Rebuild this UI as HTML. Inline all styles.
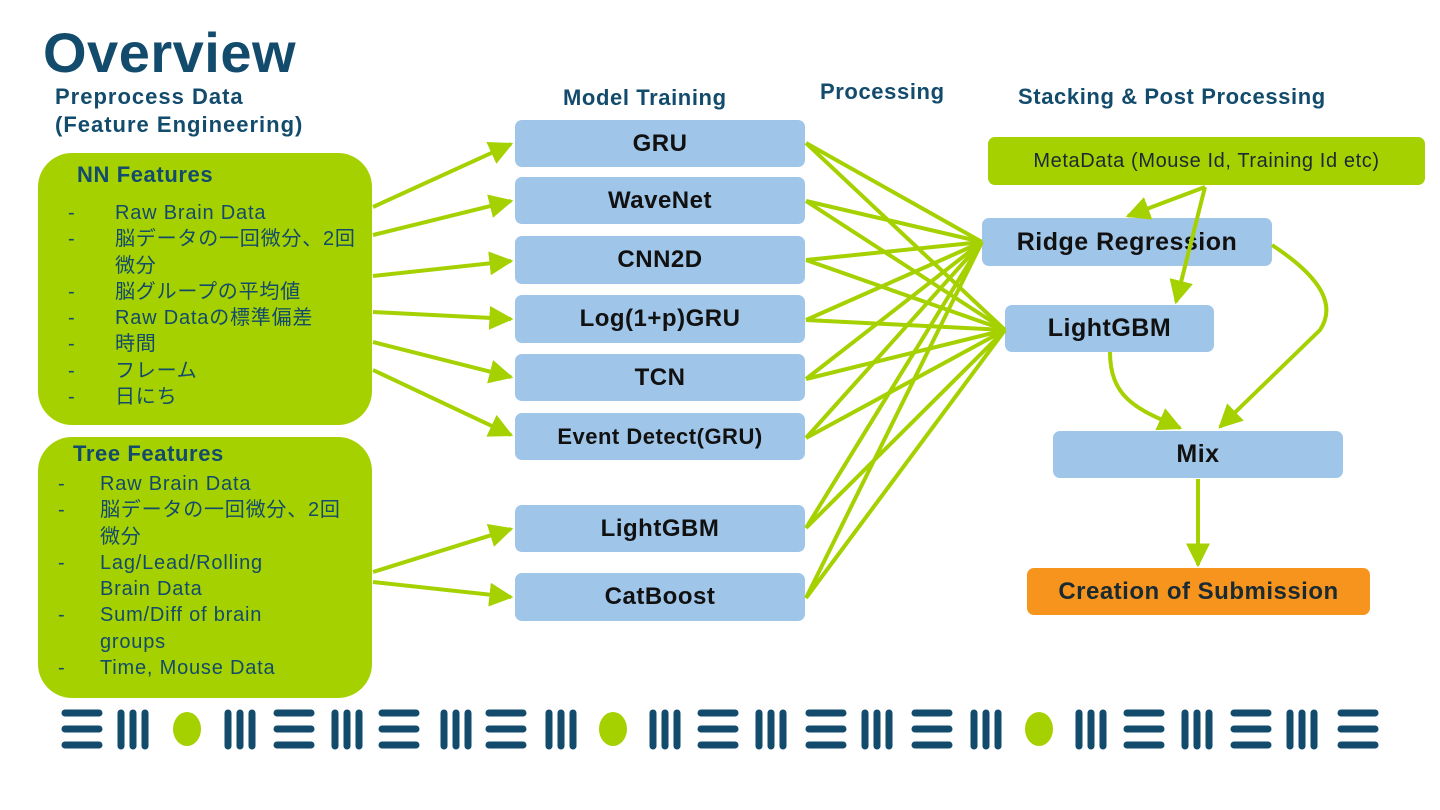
<!DOCTYPE html>
<html><head><meta charset="utf-8"><style>
body{margin:0;width:1440px;height:810px;background:#fff;overflow:hidden;position:relative;font-family:"Liberation Sans","Noto Sans CJK JP",sans-serif}
.t{position:absolute;color:#124b6c;font-weight:bold;white-space:nowrap}
.g{position:absolute;background:#a6d100;border-radius:34px}
.b{position:absolute;background:#9fc5e8;border-radius:7px;display:flex;align-items:center;justify-content:center;font-weight:bold;font-size:24px;color:#111;letter-spacing:0.5px}
.li{position:absolute;font-size:20px;color:#124b6c;white-space:nowrap;line-height:26.3px;letter-spacing:0.8px}
</style></head><body>
<div class="t" style="left:43px;top:20px;font-size:56px;letter-spacing:0.5px">Overview</div>
<div class="t" style="left:55px;top:83px;font-size:22px;line-height:28px;letter-spacing:1px">Preprocess Data<br>(Feature Engineering)</div>
<div class="t" style="left:563px;top:85px;font-size:22px;letter-spacing:0.6px">Model Training</div>
<div class="t" style="left:820px;top:79px;font-size:22px;letter-spacing:0.6px">Processing</div>
<div class="t" style="left:1018px;top:84px;font-size:22px;letter-spacing:0.6px">Stacking &amp; Post Processing</div>

<div class="g" style="left:38px;top:153px;width:334px;height:272px"></div>
<div class="g" style="left:38px;top:437px;width:334px;height:261px"></div>
<div class="t" style="left:77px;top:162px;font-size:22px;letter-spacing:0.6px">NN Features</div>
<div class="li" style="left:68px;top:200px">-<br>-<br><br>-<br>-<br>-<br>-<br>-</div>
<div class="li" style="left:115px;top:200px">Raw Brain Data<br>脳データの一回微分、2回<br>微分<br>脳グループの平均値<br>Raw Dataの標準偏差<br>時間<br>フレーム<br>日にち</div>
<div class="t" style="left:73px;top:441px;font-size:22px;letter-spacing:0.6px">Tree Features</div>
<div class="li" style="left:58px;top:471px">-<br>-<br><br>-<br><br>-<br><br>-</div>
<div class="li" style="left:100px;top:471px">Raw Brain Data<br>脳データの一回微分、2回<br>微分<br>Lag/Lead/Rolling<br>Brain Data<br>Sum/Diff of brain<br>groups<br>Time, Mouse Data</div>

<div class="b" style="left:515px;top:120px;width:290px;height:47px">GRU</div>
<div class="b" style="left:515px;top:177px;width:290px;height:47px">WaveNet</div>
<div class="b" style="left:515px;top:236px;width:290px;height:48px">CNN2D</div>
<div class="b" style="left:515px;top:295px;width:290px;height:48px">Log(1+p)GRU</div>
<div class="b" style="left:515px;top:354px;width:290px;height:47px">TCN</div>
<div class="b" style="left:515px;top:413px;width:290px;height:47px;font-size:22px">Event Detect(GRU)</div>
<div class="b" style="left:515px;top:505px;width:290px;height:47px">LightGBM</div>
<div class="b" style="left:515px;top:573px;width:290px;height:48px">CatBoost</div>

<div style="position:absolute;left:988px;top:137px;width:437px;height:48px;background:#a6d100;border-radius:7px;display:flex;align-items:center;justify-content:center;font-size:20px;color:#1a2a33;letter-spacing:0.6px">MetaData (Mouse Id, Training Id etc)</div>
<div class="b" style="left:982px;top:218px;width:290px;height:48px;font-size:25px">Ridge Regression</div>
<div class="b" style="left:1005px;top:305px;width:209px;height:47px;font-size:25px">LightGBM</div>
<div class="b" style="left:1053px;top:431px;width:290px;height:47px;font-size:25px">Mix</div>
<div class="b" style="left:1027px;top:568px;width:343px;height:47px;background:#f7941d;color:#1a2a33">Creation of Submission</div>

<svg width="1440" height="810" style="position:absolute;left:0;top:0" xmlns="http://www.w3.org/2000/svg">
<defs><marker id="a" viewBox="0 0 10 10" refX="9" refY="5" markerWidth="6" markerHeight="6" orient="auto" markerUnits="strokeWidth"><path d="M0,0L10,5L0,10z" fill="#a6d100"/></marker></defs>
<g stroke="#a6d100" stroke-width="4" fill="none" marker-end="url(#a)">
<line x1="373" y1="207" x2="511" y2="144"/>
<line x1="373" y1="235" x2="511" y2="201"/>
<line x1="373" y1="276" x2="511" y2="261"/>
<line x1="373" y1="312" x2="511" y2="319"/>
<line x1="373" y1="342" x2="511" y2="377"/>
<line x1="373" y1="370" x2="511" y2="435"/>
<line x1="373" y1="572" x2="511" y2="529"/>
<line x1="373" y1="582" x2="511" y2="597"/>
<line x1="1205" y1="187" x2="1128" y2="216"/>
<line x1="1205" y1="187" x2="1176" y2="302"/>
<path d="M1110 352 C1110 400 1140 410 1180 428"/>
<path d="M1272 245 C1310 270 1340 300 1320 330 L1220 427"/>
<line x1="1198" y1="479" x2="1198" y2="565"/>
</g>
<g stroke="#a6d100" stroke-width="4">
<line x1="806" y1="143" x2="982" y2="242"/><line x1="806" y1="143" x2="1005" y2="330"/>
<line x1="806" y1="201" x2="982" y2="242"/><line x1="806" y1="201" x2="1005" y2="330"/>
<line x1="806" y1="260" x2="982" y2="242"/><line x1="806" y1="260" x2="1005" y2="330"/>
<line x1="806" y1="320" x2="982" y2="242"/><line x1="806" y1="320" x2="1005" y2="330"/>
<line x1="806" y1="379" x2="982" y2="242"/><line x1="806" y1="379" x2="1005" y2="330"/>
<line x1="806" y1="438" x2="982" y2="242"/><line x1="806" y1="438" x2="1005" y2="330"/>
<line x1="806" y1="528" x2="982" y2="242"/><line x1="806" y1="528" x2="1005" y2="330"/>
<line x1="806" y1="598" x2="982" y2="242"/><line x1="806" y1="598" x2="1005" y2="330"/>
</g>
<g id="pat" stroke="#124b6c" stroke-width="7" stroke-linecap="round" fill="#a6d100"></g>
</svg>
<script>
var seq=[["e",82],["i",133],["d",187],["i",240],["e",294],["i",347],["e",399],["i",456],["e",506],["i",561],["d",613],["i",665],["e",718],["i",771],["e",826],["i",877],["e",932],["i",986],["d",1039],["i",1091],["e",1144],["i",1197],["e",1251],["i",1302],["e",1358]];
var g=document.getElementById("pat"),s="";
seq.forEach(function(p){var x=p[1];
if(p[0]=="e"){[713,729,745].forEach(function(y){s+='<line x1="'+(x-17)+'" y1="'+y+'" x2="'+(x+17)+'" y2="'+y+'"/>';});}
else if(p[0]=="i"){[-12,0,12].forEach(function(d){s+='<line x1="'+(x+d)+'" y1="713" x2="'+(x+d)+'" y2="746"/>';});}
else{s+='<ellipse cx="'+x+'" cy="729" rx="14" ry="17" stroke="none"/>';}});
g.innerHTML=s;
</script>
</body></html>
